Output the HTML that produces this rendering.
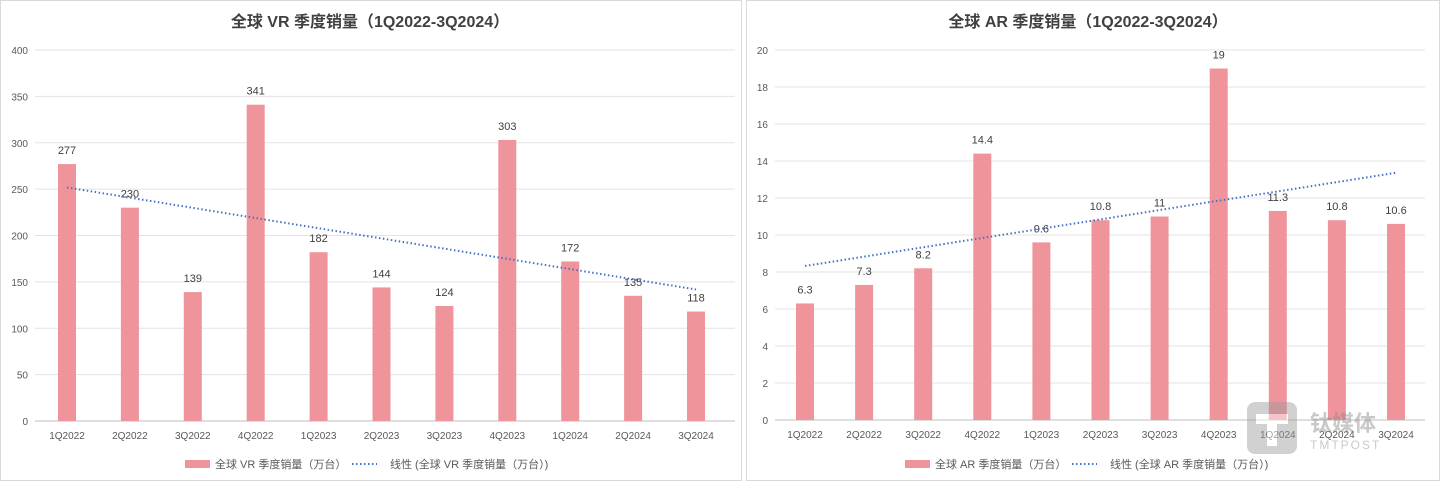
<!DOCTYPE html>
<html><head><meta charset="utf-8">
<style>
body{margin:0;background:#fff;width:1440px;height:481px;overflow:hidden;font-family:"Liberation Sans","Noto Sans CJK SC",sans-serif;}
svg{position:absolute;left:0;top:0}
</style></head><body>
<svg id="chart" width="1440" height="481" xmlns="http://www.w3.org/2000/svg">
<rect x="0.5" y="0.5" width="741" height="480" fill="#fff" stroke="#d9d9d9"/>
<rect x="746.5" y="0.5" width="693" height="480" fill="#fff" stroke="#d9d9d9"/>
</svg>
<script>
const categories=["1Q2022","2Q2022","3Q2022","4Q2022","1Q2023","2Q2023","3Q2023","4Q2023","1Q2024","2Q2024","3Q2024"];
const vrValues=[277,230,139,341,182,144,124,303,172,135,118];
const arValues=[6.3,7.3,8.2,14.4,9.6,10.8,11,19,11.3,10.8,10.6];
const vrTicks=[0,50,100,150,200,250,300,350,400];
const arTicks=[0,2,4,6,8,10,12,14,16,18,20];
const NS="http://www.w3.org/2000/svg";
const svg=document.getElementById('chart');
function mk(tag,attrs,parent,text){const e=document.createElementNS(NS,tag);for(const k in attrs)e.setAttribute(k,attrs[k]);if(text!==undefined)e.textContent=text;(parent||svg).appendChild(e);return e;}
function fit(vals){const n=vals.length;let sx=0,sy=0,sxy=0,sxx=0;vals.forEach((v,i)=>{sx+=i;sy+=v;sxy+=i*v;sxx+=i*i;});const b=(n*sxy-sx*sy)/(n*sxx-sx*sx);return [(sy-b*sx)/n,b];}
function draw(cfg){
  const g=mk('g',{});
  
  
  const y=v=>cfg.y0-(v/cfg.max)*(cfg.y0-cfg.yTop);
  const x=i=>cfg.x0+i*cfg.step;
  const t=mk('text',{x:cfg.titleX,y:27,'text-anchor':'middle','font-size':16,'font-weight':'bold',fill:'#404040'},g,cfg.title);
  
  
  cfg.ticks.forEach(v=>{
    const l=mk('line',{x1:cfg.gx0,x2:cfg.gx1,y1:y(v),y2:y(v),stroke:v===0?'#bfbfbf':'#e3e3e3','stroke-width':1},g);
    
    
    const tl=mk('text',{x:cfg.tickX,y:y(v)+4,'text-anchor':'end','font-size':10,fill:'#595959'},g,String(v));
    
    
  });
  cfg.values.forEach((v,i)=>{
    const r=mk('rect',{x:x(i)-9,y:y(v),width:18,height:cfg.y0-y(v),fill:'#F0949C'},g);
    
    
    const lb=mk('text',{x:x(i),y:y(v)-10,'text-anchor':'middle','font-size':11,fill:'#404040'},g,String(v));
    
    
    const cl=mk('text',{x:x(i),y:cfg.y0+18,'text-anchor':'middle','font-size':10,fill:'#595959'},g,categories[i]);
    
    
  });
  const [a,b]=fit(cfg.values);const n=cfg.values.length-1;
  const tr=mk('line',{x1:x(0),y1:y(a),x2:x(n),y2:y(a+b*n),stroke:'#4472C4','stroke-width':2,'stroke-dasharray':'1.5 2.5'},g);
  
  
  const ly=464;
  const lr=mk('rect',{x:cfg.legX,y:ly-4,width:25,height:8,fill:'#F0949C'},g);
  
  
  const lt=mk('text',{x:cfg.legX+30,y:ly+4,'font-size':11,fill:'#595959'},g,cfg.legBar);
  
  
  const ll=mk('line',{x1:cfg.legX2,x2:cfg.legX2+25,y1:ly,y2:ly,stroke:'#4472C4','stroke-width':2,'stroke-dasharray':'1.5 2.5'},g);
  
  
  const lt2=mk('text',{x:cfg.legX2+38,y:ly+4,'font-size':11,fill:'#595959'},g,cfg.legLine);
  
  
}
draw({name:'vr-chart',title:'全球 VR 季度销量（1Q2022-3Q2024）',titleX:370,values:vrValues,ticks:vrTicks,max:400,y0:421,yTop:50,x0:67,step:62.9,gx0:35,gx1:735,tickX:28,legX:185,legX2:352,legBar:'全球 VR 季度销量（万台）',legLine:'线性 (全球 VR 季度销量（万台）)'});
draw({name:'ar-chart',title:'全球 AR 季度销量（1Q2022-3Q2024）',titleX:1088,values:arValues,ticks:arTicks,max:20,y0:420,yTop:50,x0:805,step:59.1,gx0:775,gx1:1425,tickX:768,legX:905,legX2:1072,legBar:'全球 AR 季度销量（万台）',legLine:'线性 (全球 AR 季度销量（万台）)'});
const wm=mk('g',{opacity:0.45});


mk('rect',{x:1247,y:402,width:50,height:52,rx:8,fill:'#9a9a9a'},wm);
mk('path',{d:'M1256 414 h32 v10 h-11 v22 h-10 v-22 h-11z',fill:'#fff'},wm);
mk('text',{x:1310,y:431,'font-size':22,'font-weight':'bold',fill:'#8a8a8a'},wm,'钛媒体');
mk('text',{x:1310,y:449,'font-size':12,fill:'#8a8a8a','letter-spacing':'2'},wm,'TMTPOST');
</script>
</body></html>
